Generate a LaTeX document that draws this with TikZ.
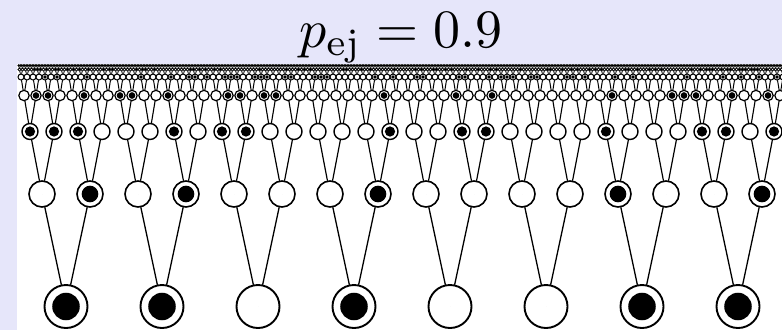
\documentclass[tikz,border=0pt]{standalone}

\definecolor{panelbg}{RGB}{230,230,250}

\tikzset{
  site/.style={circle, draw=black, fill=white, inner sep=0pt},
  ejected/.style={path picture={\fill[black] (path picture bounding box.center) circle[radius=#1];}},
  bond/.style={draw=black, line cap=round},
}

% filled sites per level (bottom level first)
\def\ejA{{1,1,0,1,0,0,1,1}}
\def\ejB{{0,1,0,1,0,0,0,1,0,0,0,0,1,0,0,1}}
\def\ejC{{1,1,1,0,0,0,1,0,1,1,0,0,0,0,0,1,0,0,1,1,0,0,0,0,1,0,0,0,1,1,0,1}}
\def\ejD{{0,1,1,0,0,1,0,0,1,1,0,0,1,0,0,0,0,1,1,0,1,1,0,0,0,0,0,0,0,0,1,0,0,0,0,0,1,0,0,1,0,0,0,0,0,0,0,0,0,1,0,0,0,0,1,1,1,0,0,1,0,0,1,0}}

\begin{document}
\begin{tikzpicture}[x=1pt, y=-1pt]

  % Achtergrond
  \useasboundingbox (0,0) rectangle (782,330);
  \fill[panelbg] (0,0) rectangle (782,330);
  \fill[white] (16.7,63.5) rectangle (782,330);

  % Titel
  \node[scale=5.4, anchor=base] (title) at (401,47) {$p_{\mathrm{ej}} = 0.9$};

  \clip (16.7,63.5) rectangle (782,330);
  \pgfmathsetseed{11}

  % Boom: niveau 1 onderaan, elk niveau verdubbelt
  \foreach \lev/\yy/\rr/\lw/\elw/\cnt in {
      1/306.5/21.5/1.9/1.3/8,
      2/194/13/1.6/1.3/16,
      3/131.5/8/1.4/1.2/32,
      4/95.5/5.2/1.2/1.1/64,
      5/77/3/1.0/1.0/128,
      6/69.5/1.6/0.85/0.85/256,
      7/65.5/0.9/0.75/0.75/512} {
    \pgfmathsetmacro{\sp}{768/\cnt}
    \pgfmathtruncatemacro{\last}{\cnt-1}
    \pgfmathtruncatemacro{\up}{\lev-1}
    \ifcase\lev\or\let\ejlist\ejA\or\let\ejlist\ejB\or\let\ejlist\ejC\or\let\ejlist\ejD\fi
    \foreach \k in {0,...,\last} {
      \pgfmathsetmacro{\xx}{18+\sp*(\k+0.5)}
      \ifnum\lev<5
        \pgfmathtruncatemacro{\ej}{\ejlist[\k]}
      \else
        \pgfmathtruncatemacro{\ej}{rnd<0.25}
      \fi
      \pgfmathsetmacro{\rdot}{\ej*0.64*\rr}
      \node[site, minimum size=2*\rr pt, line width=\lw pt, ejected=\rdot pt]
        (n\lev-\k) at (\xx,\yy) {};
      \ifnum\lev>1
        \pgfmathtruncatemacro{\pk}{floor(\k/2)}
        \draw[bond, line width=\elw pt] (n\lev-\k) -- (n\up-\pk);
      \fi
    }
  }

\end{tikzpicture}
\end{document}
